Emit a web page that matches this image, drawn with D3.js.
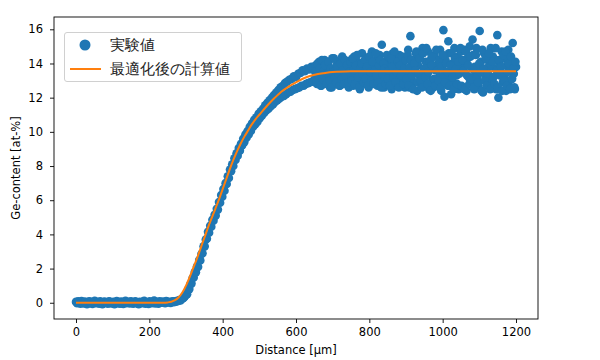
<!DOCTYPE html>
<html>
<head>
<meta charset="utf-8">
<script src="https://cdn.jsdelivr.net/npm/d3@7"></script>
<style>
  body { margin: 0; background: #fff; }
  text { font-family: "DejaVu Sans", sans-serif; }
</style>
</head>
<body>
<div id="chart"></div>
<script>
// measured Ge content, one sample every 3 um from 0 to 1200 um
var step = 3;
var geMeasured = [
  0.05, -0.03, 0.08, 0.02, -0.06, 0.10, 0.01, -0.04, 0.07, 0.03,
  -0.08, 0.04, 0.09, -0.02, 0.05, -0.07, 0.02, 0.11, -0.03, 0.06,
  0.00, -0.05, 0.08, 0.03, -0.09, 0.04, 0.07, -0.01, 0.02, -0.06,
  0.09, 0.05, -0.04, 0.01, 0.06, -0.08, 0.03, 0.10, -0.02, 0.04,
  -0.05, 0.07, 0.02, -0.07, 0.05, 0.12, -0.03, 0.01, 0.06, -0.04,
  0.08, 0.00, -0.06, 0.04, 0.09, -0.02, 0.03, -0.08, 0.06, 0.02,
  -0.03, 0.07, 0.11, -0.05, 0.04, 0.01, -0.07, 0.08, 0.03, -0.02,
  0.05, 0.13, -0.04, 0.06, 0.02, -0.06, 0.09, 0.04, 0.00, 0.07,
  0.03, -0.03, 0.10, 0.05,
  0.02, 0.06, -0.01, 0.05, 0.08, 0.03, 0.09, 0.06, 0.12, 0.10,
  0.16, 0.14, 0.22, 0.25, 0.30, 0.38,
  0.45, 0.50, 0.78, 0.80, 1.10, 1.12, 1.45, 1.48, 1.80, 1.78,
  2.12, 2.10, 2.50, 2.48, 2.85, 2.90, 3.30, 3.30, 3.70, 3.75,
  4.15, 4.10, 4.50, 4.45, 4.85, 4.80, 5.15, 5.10, 5.50, 5.45,
  5.90, 5.85, 6.30, 6.20, 6.65, 6.55, 7.00, 6.95, 7.40, 7.30,
  7.80, 7.70, 8.10, 8.00, 8.45, 8.35, 8.75, 8.60, 9.05, 8.90,
  9.30, 9.20, 9.60, 9.40, 9.85, 9.65, 10.05, 9.85, 10.30, 10.05,
  10.50, 10.30, 10.70, 10.45, 10.85, 10.60, 11.05, 10.80, 11.20, 10.95,
  11.35, 11.10, 11.55, 11.25, 11.70, 11.35, 11.85, 11.50, 12.00, 11.60,
  12.15, 11.75, 12.30, 11.85, 12.45, 11.95, 12.60, 12.05, 12.70, 12.10,
  12.85, 12.20, 12.95, 12.30, 13.05, 12.35, 13.10, 12.45, 13.25, 12.50,
  13.20, 12.55, 13.40, 12.60, 13.45, 12.70, 13.60, 12.70, 13.55, 12.80,
  13.70, 12.85, 13.65, 12.90, 13.80, 12.95, 13.75,
  13.1, 13.9, 12.8, 13.6, 14.1, 13.3, 12.7, 13.8, 13.4, 14.2,
  12.9, 13.5, 14.0, 13.2, 12.6, 13.7, 14.3, 13.0, 13.6, 12.8,
  13.9, 14.1, 13.3, 12.7, 13.5, 14.4, 13.1, 12.9, 13.8, 14.0,
  13.4, 12.6, 13.7, 14.2,
  13.2, 12.7, 14.4, 13.6, 12.9, 14.1, 13.4, 12.5, 13.9, 14.6,
  13.0, 13.7, 12.8, 14.3, 13.5, 12.6, 14.0, 13.3, 14.7, 12.9,
  13.8, 13.1, 14.2, 12.7, 13.6, 14.5, 13.0, 15.1, 13.4, 12.6,
  14.1, 13.7, 12.8, 14.4, 13.2, 13.9, 12.5, 14.6, 13.5, 13.0,
  14.2, 12.7, 13.8, 14.5, 13.3, 12.9, 14.0, 13.6, 12.6, 14.3,
  13.4, 14.8, 12.6, 15.6, 13.1, 14.2, 12.9, 13.7, 14.6, 12.4,
  13.9, 14.4, 13.2, 12.7, 14.9, 13.5, 12.8, 14.1, 13.3, 14.7,
  12.5, 13.8, 14.3, 13.0, 12.6, 14.5, 13.6, 12.9, 14.0, 13.2,
  14.8, 12.4, 13.7, 15.95, 12.05, 14.2, 13.4, 12.7, 14.6, 13.1,
  12.2, 14.0, 13.6, 14.9, 12.8, 13.3, 14.4, 12.5, 13.9, 14.7,
  13.5, 12.6, 14.8, 13.9, 12.4, 14.3, 13.2, 15.0, 12.8, 13.7,
  14.5, 12.5, 13.4, 14.9, 13.0, 12.7, 15.9, 14.1, 13.6, 12.3,
  14.6, 13.3, 12.9, 14.2, 13.8, 12.6, 14.9, 13.1, 14.4, 12.8,
  13.7, 12.5, 15.66, 12.0, 14.0, 13.5, 14.7, 12.9, 13.2, 14.3,
  12.4, 13.9, 14.8, 13.0, 12.6, 14.1, 15.2, 13.4, 12.5, 13.8
];

// extra plateau samples, in between, from 652.5 um to 1198.5 um
var plateauStart = 652.5;
var gePlateau = [
  13.5, 12.9, 14.0, 13.3, 13.7, 12.7, 14.2, 13.1, 13.6, 13.9,
  12.8, 13.4, 14.1, 13.0, 13.7, 12.6, 13.5, 14.3, 13.2, 12.9,
  13.8, 13.4, 12.7, 14.0, 13.1, 13.6, 12.8, 14.2, 13.3, 13.9,
  12.9, 13.5, 14.1,
  13.0, 14.3, 13.6, 12.8, 13.9, 14.5, 13.2, 12.6, 13.7, 14.0,
  13.4, 12.9, 14.2, 13.1, 13.8, 12.7, 14.4, 13.5, 13.0, 14.1,
  12.8, 13.6, 14.6, 13.3, 12.9, 13.9, 14.2, 12.6, 13.4, 14.0,
  13.7, 12.8, 14.5, 13.1, 13.6, 12.7, 14.3, 13.8, 13.2, 14.7,
  12.9, 13.5, 14.1, 12.6, 13.9, 13.3, 14.4, 12.8, 13.7, 14.2,
  13.1, 14.5, 12.7, 13.8, 14.2, 13.3, 12.5, 14.0, 13.6, 14.7,
  12.9, 13.4, 14.3, 13.0, 12.6, 14.6, 13.7, 13.2, 14.9, 12.8,
  13.5, 14.1, 12.4, 13.9, 14.4, 13.1, 12.7, 14.8, 13.6, 13.0,
  14.2, 12.6, 13.8, 14.5, 13.3, 12.9, 14.0, 13.5, 15.3, 12.7,
  13.9, 14.6, 13.2, 12.5, 14.3, 13.7, 12.8, 14.1, 13.4, 14.9,
  12.7, 14.2, 13.6, 12.5, 14.7, 13.3, 13.9, 12.8, 14.4, 13.1,
  15.4, 12.6, 13.8, 14.5, 13.2, 12.9, 14.0, 13.5, 12.4, 14.8,
  13.7, 13.0, 14.3, 12.7, 13.4, 14.6, 12.5, 13.9, 14.1, 13.2,
  12.8, 14.9, 13.6, 12.6, 14.2, 13.3, 13.8, 12.4, 14.5, 13.0,
  14.7, 12.7, 13.5, 14.0, 12.5, 14.4, 13.1, 13.7, 12.6, 14.1
];

// optimised calculation (fit) curve
var fitX = [0, 240, 250, 260, 270, 280, 290, 300, 310, 320, 330, 340, 350, 360, 370, 380, 390,
  400, 410, 420, 430, 440, 450, 460, 470, 480, 490, 500, 520, 540, 560, 580, 600, 620, 640,
  660, 680, 700, 750, 800, 1200];
var fitY = [0, 0, 0.02, 0.06, 0.15, 0.32, 0.6, 1.0, 1.5, 2.05, 2.6, 3.2, 3.8, 4.4, 4.95, 5.5, 6.05,
  6.65, 7.25, 7.85, 8.4, 8.9, 9.35, 9.75, 10.1, 10.45, 10.75, 11.0, 11.5, 11.95, 12.35, 12.65, 12.9,
  13.12, 13.28, 13.38, 13.45, 13.5, 13.54, 13.55, 13.55];

var xTicks = [0, 200, 400, 600, 800, 1000, 1200];
var yTicks = [0, 2, 4, 6, 8, 10, 12, 14, 16];
var legendLabels = ["実験値", "最適化後の計算値"];

var svgWidth = 600, svgHeight = 360;
var plot = { left: 54, right: 538, top: 17, bottom: 319 };

var svg = d3.select("#chart").append("svg")
  .attr("width", svgWidth)
  .attr("height", svgHeight);

var x = d3.scaleLinear().domain([-60, 1260]).range([plot.left, plot.right]);
var y = d3.scaleLinear().domain([-0.95, 16.72]).range([plot.bottom, plot.top]);

var measured = geMeasured.map((v, i) => ({ d: i * step, ge: v }))
  .concat(gePlateau.map((v, i) => ({ d: plateauStart + i * step, ge: v })));
var fit = fitX.map((v, i) => ({ d: v, ge: fitY[i] }));

var plotArea = svg.append("g");

plotArea.selectAll("circle")
  .data(measured)
  .enter()
  .append("circle")
  .attr("cx", d => x(d.d))
  .attr("cy", d => y(d.ge))
  .attr("r", 4.3)
  .attr("fill", "#1f77b4");

var line = d3.line()
  .x(d => x(d.d))
  .y(d => y(d.ge))
  .curve(d3.curveMonotoneX);

plotArea.append("path")
  .datum(fit)
  .attr("d", line)
  .attr("fill", "none")
  .attr("stroke", "#ff7f0e")
  .attr("stroke-width", 2);

// axes
var xAxis = d3.axisBottom(x).tickValues(xTicks).tickFormat(d3.format("d"))
  .tickSize(4).tickPadding(5).tickSizeOuter(0);
var yAxis = d3.axisLeft(y).tickValues(yTicks).tickFormat(d3.format("d"))
  .tickSize(4).tickPadding(7).tickSizeOuter(0);

var gx = svg.append("g")
  .attr("transform", `translate(0, ${plot.bottom})`)
  .call(xAxis);
var gy = svg.append("g")
  .attr("transform", `translate(${plot.left}, 0)`)
  .call(yAxis);

[gx, gy].forEach(g => {
  g.select(".domain").remove();
  g.selectAll("text").attr("font-size", "11.5px").attr("fill", "#000").attr("font-family", "DejaVu Sans");
  g.selectAll("line").attr("stroke", "#000").attr("stroke-width", 0.9);
});

svg.append("rect")
  .attr("x", plot.left)
  .attr("y", plot.top)
  .attr("width", plot.right - plot.left)
  .attr("height", plot.bottom - plot.top)
  .attr("fill", "none")
  .attr("stroke", "#000")
  .attr("stroke-width", 0.9);

svg.append("text")
  .attr("x", (plot.left + plot.right) / 2)
  .attr("y", 354)
  .attr("text-anchor", "middle")
  .attr("font-size", "11.5px")
  .text("Distance [μm]");

svg.append("text")
  .attr("transform", `translate(20, ${(plot.top + plot.bottom) / 2}) rotate(-90)`)
  .attr("text-anchor", "middle")
  .attr("font-size", "11.5px")
  .text("Ge-content [at-%]");

// legend
var legend = svg.append("g");
legend.append("rect")
  .attr("x", 64.5).attr("y", 32.5)
  .attr("width", 177).attr("height", 49)
  .attr("rx", 2.5)
  .attr("fill", "#fff").attr("fill-opacity", 0.8)
  .attr("stroke", "#d0d0d0");
legend.append("circle")
  .attr("cx", 85).attr("cy", 45).attr("r", 5.5)
  .attr("fill", "#1f77b4");
legend.append("line")
  .attr("x1", 70).attr("x2", 101)
  .attr("y1", 69).attr("y2", 69)
  .attr("stroke", "#ff7f0e").attr("stroke-width", 2);
legend.selectAll("text.lbl")
  .data(legendLabels)
  .enter()
  .append("text")
  .attr("class", "lbl")
  .attr("x", 110)
  .attr("y", (d, i) => 45 + i * 24)
  .attr("dy", "0.36em")
  .attr("font-family", "Noto Sans CJK JP")
  .attr("font-size", "15px")
  .attr("fill", "#222")
  .text(d => d);
</script>
</body>
</html>
